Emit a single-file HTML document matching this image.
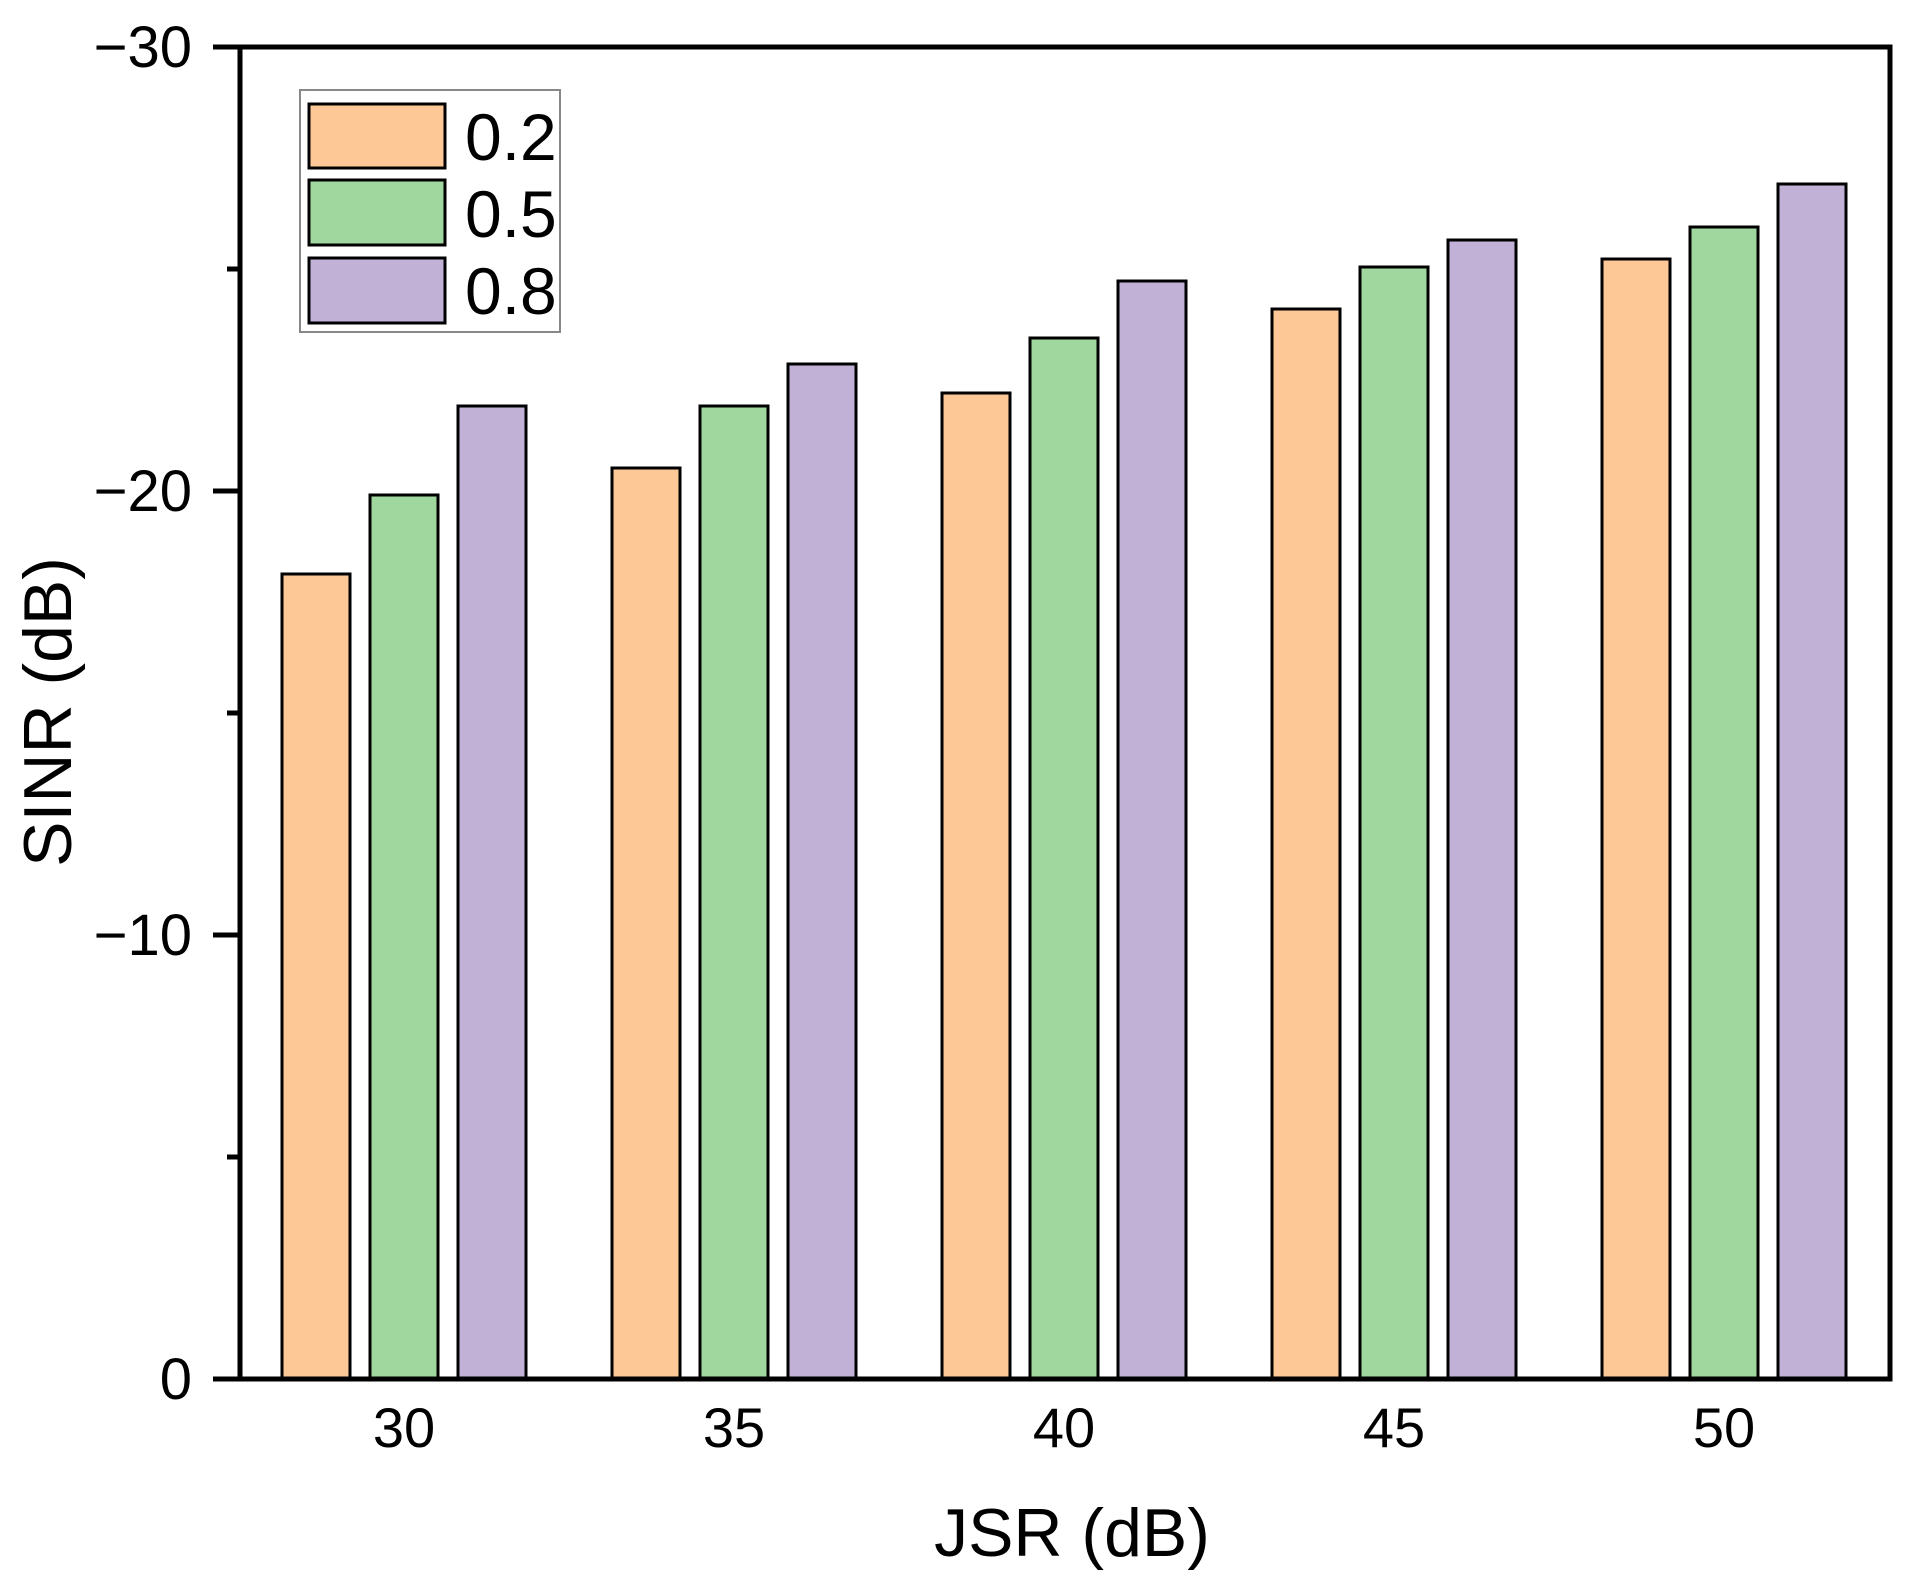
<!DOCTYPE html>
<html><head><meta charset="utf-8"><style>html,body{margin:0;padding:0;background:#fff}svg{display:block}</style></head>
<body>
<svg width="1911" height="1581" viewBox="0 0 1911 1581" xmlns="http://www.w3.org/2000/svg" font-family="Liberation Sans, Arial, sans-serif">
<rect width="1911" height="1581" fill="#fff"/>
<g stroke="#000" stroke-width="3">
<rect x="282" y="574" width="68" height="805" fill="#FDC896"/>
<rect x="370" y="495" width="68" height="884" fill="#9FD79E"/>
<rect x="458" y="406" width="68" height="973" fill="#C1B1D6"/>
<rect x="612" y="468" width="68" height="911" fill="#FDC896"/>
<rect x="700" y="406" width="68" height="973" fill="#9FD79E"/>
<rect x="788" y="364" width="68" height="1015" fill="#C1B1D6"/>
<rect x="942" y="393" width="68" height="986" fill="#FDC896"/>
<rect x="1030" y="338" width="68" height="1041" fill="#9FD79E"/>
<rect x="1118" y="281" width="68" height="1098" fill="#C1B1D6"/>
<rect x="1272" y="309" width="68" height="1070" fill="#FDC896"/>
<rect x="1360" y="267" width="68" height="1112" fill="#9FD79E"/>
<rect x="1448" y="240" width="68" height="1139" fill="#C1B1D6"/>
<rect x="1602" y="259" width="68" height="1120" fill="#FDC896"/>
<rect x="1690" y="227" width="68" height="1152" fill="#9FD79E"/>
<rect x="1778" y="184" width="68" height="1195" fill="#C1B1D6"/>
</g>
<rect x="240" y="47" width="1650" height="1332" fill="none" stroke="#000" stroke-width="5"/>
<g stroke="#000" stroke-width="5">
<line x1="213" y1="47" x2="240" y2="47"/>
<line x1="213" y1="491" x2="240" y2="491"/>
<line x1="213" y1="935" x2="240" y2="935"/>
<line x1="213" y1="1379" x2="240" y2="1379"/>
<line x1="227" y1="269" x2="240" y2="269"/>
<line x1="227" y1="713" x2="240" y2="713"/>
<line x1="227" y1="1157" x2="240" y2="1157"/>
</g>
<g font-size="58" text-anchor="end" fill="#000">
<text x="192" y="67">−30</text>
<text x="192" y="511">−20</text>
<text x="192" y="955">−10</text>
<text x="192" y="1399">0</text>
</g>
<g font-size="56" text-anchor="middle" fill="#000">
<text x="404" y="1447">30</text>
<text x="734" y="1447">35</text>
<text x="1064" y="1447">40</text>
<text x="1394" y="1447">45</text>
<text x="1724" y="1447">50</text>
</g>
<text x="1072" y="1556" font-size="68" text-anchor="middle">JSR (dB)</text>
<text transform="translate(71,712) rotate(-90)" font-size="68" text-anchor="middle">SINR (dB)</text>
<rect x="300" y="90" width="260" height="242" fill="#fff" stroke="#888" stroke-width="2"/>
<g stroke="#000" stroke-width="3">
<rect x="309" y="104" width="136" height="64" fill="#FDC896"/>
<rect x="309" y="180" width="136" height="65" fill="#9FD79E"/>
<rect x="309" y="258" width="136" height="65" fill="#C1B1D6"/>
</g>
<g font-size="66" fill="#000">
<text x="465" y="160">0.2</text>
<text x="465" y="237">0.5</text>
<text x="465" y="314">0.8</text>
</g>
</svg>
</body></html>
